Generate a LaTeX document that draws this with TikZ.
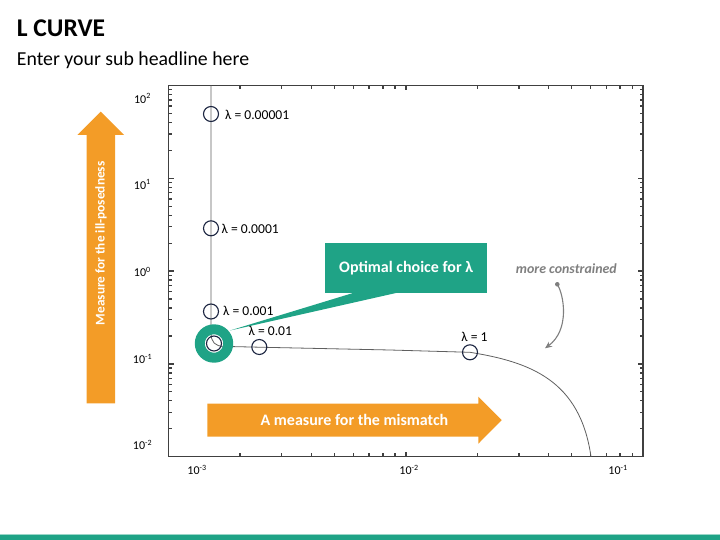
\documentclass[tikz,border=0pt]{standalone}
\usepackage{fontspec}
\setmainfont{Carlito}
\usetikzlibrary{arrows.meta}
\definecolor{lteal}{HTML}{1FA386}
\definecolor{lorange}{HTML}{F39C27}
\definecolor{axisgray}{HTML}{404040}
\definecolor{curvegray}{HTML}{5F5F5F}
\definecolor{circcol}{HTML}{1C2541}
\definecolor{txtgray}{HTML}{7F7F7F}
\begin{document}
\begin{tikzpicture}[x=1pt,y=-1pt,
  axisbox/.style={draw=axisgray,line width=1.2pt},
  tickline/.style={draw=axisgray,line width=1.3pt},
  curveline/.style={draw=curvegray,line width=0.8pt},
  lcirc/.style={circle,draw=circcol,line width=1.1pt,minimum size=15pt,inner sep=0pt},
  lamlab/.style={anchor=west,inner sep=0pt,font=\fontsize{13.6}{16}\selectfont},
  ticklab/.style={inner sep=0pt,font=\fontsize{12}{14}\selectfont},
  whitebold/.style={text=white,inner sep=0pt,font=\bfseries\fontsize{16}{19}\selectfont}
]
\useasboundingbox (0,0) rectangle (720,540);
% title
\node[anchor=base west,inner sep=0pt] (title) at (16.7,36.7) {\bfseries\fontsize{25.5}{30}\selectfont L CURVE};
\node[anchor=base west,inner sep=0pt] (subtitle) at (16.7,65.5) {\fontsize{19.8}{24}\selectfont Enter your sub headline here};
% bottom bar
\fill[lteal!45] (0,533.8) rectangle (720,535);
\fill[lteal] (0,535) rectangle (720,540);
% axes box
\draw[axisbox] (168.7,85.5) rectangle (643,456.7);
% x ticks
\foreach \d in {0,1}{
  \foreach \m in {2,...,9}{
    \pgfmathsetmacro{\xx}{168.7+237.15*(\d+log10(\m))}
    \draw[tickline] (\xx,456.7) -- ++(0,-3.5);
    \draw[tickline] (\xx,85.5) -- ++(0,3.5);
  }
}
\draw[tickline] (405.85,456.7) -- ++(0,-5);
\draw[tickline] (405.85,85.5) -- ++(0,5);
% y ticks
\foreach \d in {0,...,3}{
  \foreach \m in {2,...,9}{
    \pgfmathsetmacro{\yy}{456.7-92.8*(\d+log10(\m))}
    \draw[tickline] (168.7,\yy) -- ++(3.5,0);
    \draw[tickline] (643,\yy) -- ++(-3.5,0);
  }
}
\foreach \yy in {363.9,271.1,178.3}{
  \draw[tickline] (168.7,\yy) -- ++(5,0);
  \draw[tickline] (643,\yy) -- ++(-5,0);
}
% tick labels
\node[ticklab] (ty2) at (142.5,98.5) {10\textsuperscript{2}};
\node[ticklab] (ty1) at (142.3,184.3) {10\textsuperscript{1}};
\node[ticklab] (ty0) at (142.3,271.7) {10\textsuperscript{0}};
\node[ticklab] (tym1) at (142.5,358.7) {10\textsuperscript{-1}};
\node[ticklab] (tym2) at (142.5,445) {10\textsuperscript{-2}};
\node[ticklab] (txm3) at (197,470) {10\textsuperscript{-3}};
\node[ticklab] (txm2) at (409,470) {10\textsuperscript{-2}};
\node[ticklab] (txm1) at (618,470) {10\textsuperscript{-1}};
% L curve
\draw[curveline] (211,85.5) -- (211,333) .. controls (211,342) and (215,346.3) .. (224,346.4)
  -- (259.3,347.2) -- (390,350) -- (470,352.3)
  .. controls (530,362) and (580,380) .. (591,456.7);
% orange arrows
\fill[lorange] (86.7,403.3) -- (86.7,135) -- (77.3,135) -- (100.7,111.7) -- (124,135) -- (115,135) -- (115,403.3) -- cycle;
\node[whitebold,rotate=90,font=\bfseries\fontsize{13.3}{16}\selectfont] (vtext) at (101,243.3) {Measure for the ill-posedness};
\fill[lorange] (207.3,403.7) -- (478.3,403.7) -- (478.3,396.7) -- (501.7,420.2) -- (478.3,443.7) -- (478.3,436.7) -- (207.3,436.7) -- cycle;
\node[whitebold] (htext) at (354.5,420.3) {A measure for the mismatch};
% optimal ring and callout
\node[circle,draw=lteal,line width=10pt,minimum size=28.4pt,inner sep=0pt] (ring) at (214,343.5) {};
\node[lcirc] (copt) at (214,343.5) {};
\node[fill=lteal,minimum width=162.3pt,minimum height=50pt,inner sep=0pt] (callout) at (406.15,268.3) {};
\node[whitebold] (callouttext) at (406.15,268.3) {Optimal choice for λ};
\coordinate (wtip) at (230,330.5);
\fill[lteal] (wtip) -- (353,293) -- (396,293) -- cycle;
% lambda circles
\node[lcirc] (c1) at (211,114) {};
\node[lcirc] (c2) at (211,228.3) {};
\node[lcirc] (c3) at (211,311.5) {};
\node[lcirc] (c4) at (259.3,347) {};
\node[lcirc] (c5) at (470,352.3) {};
\node[lamlab] (l1) at (225,114.5) {λ = 0.00001};
\node[lamlab] (l2) at (221.5,228.5) {λ = 0.0001};
\node[lamlab] (l3) at (223,311) {λ = 0.001};
\node[lamlab] (l4) at (248.5,330.5) {λ = 0.01};
\node[lamlab,anchor=center] (l5) at (474.5,336.7) {λ = 1};
% more constrained
\node[inner sep=0pt,text=txtgray,font=\bfseries\itshape\fontsize{13.9}{16}\selectfont] (mc) at (566.3,268.5) {more constrained};
\coordinate (mcdot) at (557.3,284.3);
\coordinate (mctip) at (545,348.3);
\fill[txtgray] (mcdot) circle[radius=2.3pt];
\draw[txtgray,line width=1.1pt,-{Stealth[length=7pt,width=6pt]}] (mcdot) .. controls (564,295) and (570,330) .. (mctip);
\end{tikzpicture}
\end{document}
